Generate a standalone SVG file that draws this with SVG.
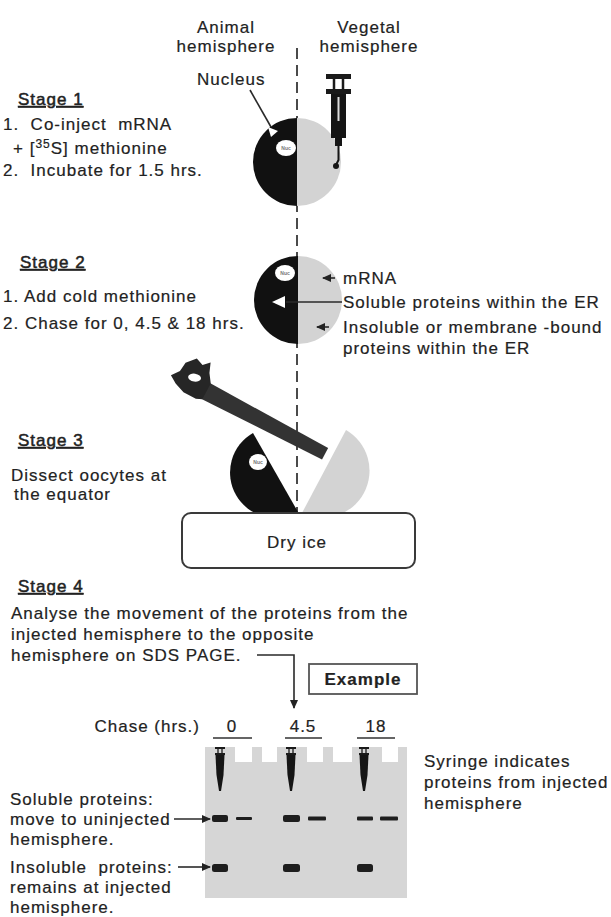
<svg xmlns="http://www.w3.org/2000/svg" width="611" height="917" viewBox="0 0 611 917">
  <style>
    text { font-family: "Liberation Sans", Arial, sans-serif; font-size: 17px; letter-spacing: 1px; fill: #222; stroke: #222; stroke-width: 0.2px; }
    .c { text-anchor: middle; }
    .e { text-anchor: end; }
    .u { text-decoration: underline; stroke-width: 0.5px; }
    .b { font-weight: bold; }
    .nuc { font-size: 5px; letter-spacing: 0; fill: #777; stroke: none; text-anchor: middle; font-weight: bold; }
    .ink { fill: #111; }
    .veg { fill: #d3d3d3; }
    .lead { stroke: #2a2a2a; stroke-width: 1.6; fill: none; }
    .axis { stroke: #4a4a4a; stroke-width: 2; stroke-dasharray: 11 6; fill: none; }
    .band { fill: #1e1e1e; }
    .well { fill: #ffffff; }
    .frame { fill: #ffffff; stroke: #3a3a3a; stroke-width: 2; }
  </style>
  <defs>
    <marker id="ah" markerUnits="userSpaceOnUse" markerWidth="9" markerHeight="8" refX="8" refY="4" orient="auto">
      <path d="M0,0 L9,4 L0,8 Z" fill="#222"/>
    </marker>
    <!-- small syringe used to mark the injected lanes on the gel -->
    <g id="gel-syringe">
      <rect x="-5" y="0" width="10" height="2" fill="#1a1a1a"/>
      <path d="M-2,2 V6 M2,2 V6" stroke="#1a1a1a" stroke-width="1.3"/>
      <rect x="-5" y="6" width="10" height="2" fill="#1a1a1a"/>
      <path d="M-4.5,8 H4.5 L3.5,28 L1,44 H-1 L-3.5,28 Z" fill="#151515"/>
    </g>
  </defs>

  <rect width="611" height="917" fill="#ffffff"/>

  <!-- column headings -->
  <g id="headings">
    <text class="c" x="226" y="33">Animal</text>
    <text class="c" x="226" y="52">hemisphere</text>
    <text class="c" x="369" y="33">Vegetal</text>
    <text class="c" x="369" y="52">hemisphere</text>
  </g>

  <!-- equator axis -->
  <line class="axis" x1="297" y1="48" x2="297" y2="513"/>

  <!-- Stage 1 -->
  <g id="stage1-text">
    <text class="u" x="18" y="105">Stage 1</text>
    <text x="3" y="130" xml:space="preserve">1.  Co-inject  mRNA</text>
    <text x="13" y="154">+ [<tspan font-size="12" dy="-6">35</tspan><tspan dy="6">S] methionine</tspan></text>
    <text x="3" y="176" xml:space="preserve">2.  Incubate for 1.5 hrs.</text>
  </g>

  <g id="oocyte1">
    <path class="ink" d="M297,118 A44,44 0 0,0 297,206 Z"/>
    <path class="veg" d="M297,118 A44,44 0 0,1 297,206 Z"/>
    <ellipse cx="286" cy="148" rx="10" ry="8" fill="#fff"/>
    <text class="nuc" x="286" y="150">Nuc</text>
  </g>

  <g id="nucleus-label">
    <text x="197" y="85">Nucleus</text>
  </g>

  <g id="syringe">
    <rect x="326" y="74" width="25" height="5" fill="#1a1a1a"/>
    <path d="M334,79 V90 M343,79 V90" stroke="#1a1a1a" stroke-width="2.5"/>
    <rect x="326" y="89" width="25" height="5" fill="#1a1a1a"/>
    <rect x="331" y="94" width="15" height="44" fill="#151515"/>
    <line x1="338.5" y1="97" x2="338.5" y2="121" stroke="#ddd" stroke-width="2"/>
    <rect x="335" y="138" width="7" height="8" fill="#151515"/>
    <path d="M338.5,146 V160 L336,165" stroke="#151515" stroke-width="2" fill="none"/>
    <circle cx="336" cy="166" r="3" fill="#151515"/>
  </g>

  <!-- Stage 2 -->
  <g id="stage2-text">
    <text class="u" x="20" y="268">Stage 2</text>
    <text x="3" y="302">1. Add cold methionine</text>
    <text x="3" y="329">2. Chase for 0, 4.5 &amp; 18 hrs.</text>
  </g>

  <g id="oocyte2">
    <path class="ink" d="M298,256 A44,44 0 0,0 298,344 Z"/>
    <path class="veg" d="M298,256 A44,44 0 0,1 298,344 Z"/>
    <ellipse cx="285" cy="273" rx="10" ry="8" fill="#fff"/>
    <text class="nuc" x="285" y="275">Nuc</text>
    <polygon points="272,302 285,296 285,308" fill="#fff"/>
  </g>

  <g id="stage2-labels">
    <text x="343" y="284">mRNA</text>
    <text x="343" y="308">Soluble proteins within the ER</text>
    <text x="343" y="333">Insoluble or membrane -bound</text>
    <text x="343" y="354">proteins within the ER</text>
  </g>

  <!-- Stage 3 -->
  <g id="stage3-text">
    <text class="u" x="18" y="446">Stage 3</text>
    <text x="11" y="481">Dissect oocytes at</text>
    <text x="14" y="500">the equator</text>
  </g>

  <g id="halves">
    <path class="ink" d="M298,512 L253,433 A45,45 0 0,0 298,512 Z"/>
    <ellipse cx="258" cy="462" rx="9" ry="8" fill="#fff"/>
    <text class="nuc" x="258" y="464">Nuc</text>
    <path class="veg" d="M346,430 L302,513 A47,47 0 0,0 346,430 Z"/>
  </g>

  <g id="saw" transform="translate(205,390) rotate(28)">
    <path d="M0,-8.5 L136,-6.5 L136,6.5 L0,9.5 Z" fill="#333"/>
    <path d="M2,-8.5 L-4,-17 L-8,-27 L-14,-21 L-22,-24 L-30,-15 L-31,-5 L-37,3 L-29,8 L-18,12 L-4,12 L2,9.5 Z" fill="#262626"/>
    <ellipse cx="-15" cy="-6" rx="6.5" ry="4" fill="#fff" transform="rotate(-20 -15 -6)"/>
  </g>

  <g id="dry-ice">
    <rect class="frame" x="182" y="513" width="233" height="55" rx="9"/>
    <text class="c" x="297" y="548">Dry ice</text>
  </g>

  <!-- Stage 4 -->
  <g id="stage4-text">
    <text class="u" x="18" y="592">Stage 4</text>
    <text x="11" y="619">Analyse the movement of the proteins from the</text>
    <text x="11" y="640">injected hemisphere to the opposite</text>
    <text x="11" y="661">hemisphere on SDS PAGE.</text>
  </g>

  <g id="example">
    <rect x="309" y="664" width="108" height="30" fill="#fff" stroke="#555" stroke-width="1.8"/>
    <text class="c b" x="363" y="685">Example</text>
  </g>

  <g id="chase-axis">
    <text class="e" x="200" y="732">Chase (hrs.)</text>
    <text class="c" x="232" y="732">0</text>
    <text class="c" x="303" y="732">4.5</text>
    <text class="c" x="376" y="732">18</text>
    <path d="M213,738 H252 M285,738 H322 M357,738 H395" stroke="#333" stroke-width="1.5"/>
  </g>

  <g id="gel">
    <rect x="205" y="747" width="202" height="151" fill="#d6d6d6"/>
    <rect class="well" x="235" y="747" width="17" height="15"/>
    <rect class="well" x="262" y="747" width="15" height="15"/>
    <rect class="well" x="307" y="747" width="16" height="15"/>
    <rect class="well" x="333" y="747" width="19" height="15"/>
    <rect class="well" x="382" y="747" width="16" height="15"/>
    <use href="#gel-syringe" x="220" y="747"/>
    <use href="#gel-syringe" x="291" y="747"/>
    <use href="#gel-syringe" x="364" y="747"/>
    <!-- soluble row -->
    <rect class="band" x="212" y="815" width="16" height="7" rx="2"/>
    <rect class="band" x="236" y="817" width="16" height="3" rx="1"/>
    <rect class="band" x="283" y="815" width="17" height="7" rx="2"/>
    <rect class="band" x="308" y="816.5" width="18" height="4" rx="1"/>
    <rect class="band" x="357" y="816.5" width="16" height="4" rx="1"/>
    <rect class="band" x="380" y="816.5" width="18" height="4" rx="1"/>
    <!-- insoluble row -->
    <rect class="band" x="212" y="864" width="16" height="8" rx="2.5"/>
    <rect class="band" x="283" y="864" width="17" height="8" rx="2.5"/>
    <rect class="band" x="357" y="864" width="16" height="8" rx="2.5"/>
  </g>

  <g id="gel-labels">
    <text x="10" y="805">Soluble proteins:</text>
    <text x="10" y="825">move to uninjected</text>
    <text x="10" y="845">hemisphere.</text>
    <text x="10" y="873" xml:space="preserve">Insoluble  proteins:</text>
    <text x="10" y="893">remains at injected</text>
    <text x="10" y="913">hemisphere.</text>
    <text x="424" y="767">Syringe indicates</text>
    <text x="424" y="788">proteins from injected</text>
    <text x="424" y="809">hemisphere</text>
  </g>

  <!-- connectors -->
  <g id="connectors">
    <path class="lead" d="M250,90 L271,127"/>
    <polygon points="268,127 278,131 271,137" fill="#fff"/>
    <line class="lead" x1="335" y1="278" x2="323" y2="278" marker-end="url(#ah)"/>
    <line class="lead" x1="286" y1="302" x2="342" y2="302" stroke="#444"/>
    <line class="lead" x1="329" y1="327" x2="317" y2="327" marker-end="url(#ah)"/>
    <path class="lead" d="M257,655 H294 V708" marker-end="url(#ah)"/>
    <line class="lead" x1="174" y1="819" x2="210" y2="819" marker-end="url(#ah)"/>
    <line class="lead" x1="178" y1="867" x2="210" y2="867" marker-end="url(#ah)"/>
  </g>
</svg>
